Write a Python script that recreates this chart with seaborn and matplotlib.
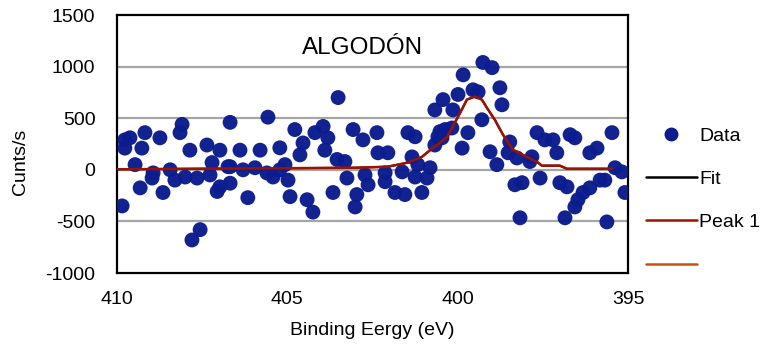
import matplotlib
matplotlib.use("Agg")
import matplotlib.pyplot as plt
from matplotlib.lines import Line2D
import seaborn as sns
import pandas as pd

# ---- data ----
data_ev = [410.12, 409.85, 409.77, 409.62, 409.77, 409.18, 409.27, 408.74, 408.09, 408.15,
           407.86, 407.36, 406.98, 406.68, 409.47, 408.94, 408.97, 408.44, 408.30, 408.00,
           407.65, 407.21, 407.27, 406.98, 407.06, 406.74, 409.32, 408.65, 407.56, 407.80,
           405.57, 403.51, 406.39, 405.80, 405.22, 404.78, 404.19, 403.95, 403.81, 403.07,
           404.54, 404.63, 403.90, 403.54, 403.31, 406.68, 406.30, 405.95, 405.60, 405.42,
           405.07, 405.22, 404.98, 406.16, 404.92, 404.42, 404.25, 403.66, 403.25, 403.01,
           402.96, 406.68, 402.78, 402.37, 401.46, 401.25, 402.34, 402.05, 401.34, 402.72,
           402.63, 402.13, 402.13, 401.63, 401.17, 400.81, 400.90, 401.25, 401.84, 401.55,
           401.05, 400.67, 400.43, 400.14, 399.99, 399.84, 399.55, 399.40, 399.26, 398.99,
           400.58, 400.52, 400.37, 400.17, 400.46, 399.70, 399.29, 399.87, 399.05, 400.67,
           398.76, 398.70, 398.47, 398.52, 398.85, 398.26, 397.88, 397.82, 397.67, 397.44,
           397.20, 397.09, 396.70, 396.56, 396.12, 395.91, 395.47, 398.11, 398.32, 397.58,
           397.00, 396.79, 396.47, 396.56, 396.32, 396.12, 395.82, 395.68, 395.38, 395.18,
           395.09, 398.17, 396.85, 395.62]
data_counts = [-350, -350, 290, 310, 210, 360, 210, 310, 440, 360,
               190, 240, 190, 460, 50, -30, -80, 0, -100, -70,
               -80, 70, -50, -165, -210, 30, -175, -220, -580, -680,
               510, 700, 190, 190, 213, 390, 360, 420, 310, 390,
               260, 145, 190, 100, 80, 30, 0, 20, -30, -70,
               50, 0, -100, -270, -260, -290, -410, -220, -80, -360,
               -240, -130, 290, 360, 360, 320, 165, 165, 125, -50,
               -145, -30, -115, -20, 50, 20, -80, -70, -220, -240,
               -220, 580, 680, 580, 730, 920, 775, 755, 1040, 990,
               320, 370, 390, 405, 310, 360, 485, 210, 175, 240,
               795, 630, 270, 165, 50, 115, 80, 126, 360, 290,
               290, 165, 340, 310, 165, 210, 360, -125, -145, -80,
               -125, -165, -290, -360, -220, -175, -100, -100, 20, -20,
               -220, -465, -465, -505]

peak_ev = [410.0, 403.0, 402.05, 401.46, 401.05, 400.72, 400.6, 400.31, 399.93, 399.73,
           399.49, 399.29, 399.14, 398.91, 398.67, 398.38, 397.97, 397.64, 397.53, 397.0,
           396.79, 395.47]
peak_counts = [5, 20, 30, 70, 125, 215, 240, 320, 550, 680,
               710, 680, 600, 485, 340, 195, 125, 70, 40, 40,
               10, 10]
fit_counts = peak_counts

legend_labels = ["Data", "Fit", "Peak 1", ""]
x_ticks = [410, 405, 400, 395]
y_ticks = [-1000, -500, 0, 500, 1000, 1500]

# ---- style ----
sns.set_style("white")
plt.rcParams["font.family"] = ["Liberation Sans", "DejaVu Sans"]
plt.rcParams["text.color"] = "black"
plt.rcParams["axes.labelcolor"] = "black"
plt.rcParams["xtick.color"] = "black"
plt.rcParams["ytick.color"] = "black"

NAVY = "#0A1C8E"
RED = "#A01200"
ORANGE = "#C4540E"

fig = plt.figure(figsize=(7.65, 3.49), dpi=100)
ax = fig.add_axes([117 / 765, 76 / 349, 511 / 765, 258 / 349])

df_data = pd.DataFrame({"ev": data_ev, "counts": data_counts})
df_peak = pd.DataFrame({"ev": peak_ev, "peak": peak_counts, "fit": fit_counts})

for y in y_ticks[1:-1]:
    ax.axhline(y, color="#A6A6A6", lw=1.6, zorder=0)

sns.lineplot(data=df_peak, x="ev", y="fit", ax=ax, color="black", lw=1.5,
             sort=False, zorder=2, legend=False)
sns.scatterplot(data=df_data, x="ev", y="counts", ax=ax, color=NAVY, s=115,
                edgecolor="none", alpha=0.97, zorder=3, legend=False)
sns.lineplot(data=df_peak, x="ev", y="peak", ax=ax, color=RED, lw=1.8,
             sort=False, zorder=4, legend=False)

ax.set_xlim(410, 395)
ax.set_ylim(-1000, 1500)
ax.set_xticks(x_ticks)
ax.set_yticks(y_ticks)
ax.set_xticklabels([str(t) for t in x_ticks])
ax.set_yticklabels([str(t) for t in y_ticks])
ax.tick_params(axis="x", length=0, pad=13, labelsize=14)
ax.tick_params(axis="y", length=0, pad=15.5, labelsize=14)
for s in ax.spines.values():
    s.set_color("black")
    s.set_linewidth(1.6)

ax.set_xlabel("Binding Eergy (eV)", fontsize=14, va="top")
ax.xaxis.set_label_coords(0.5, -0.19)
ax.set_ylabel("Cunts/s", fontsize=14)
ax.yaxis.set_label_coords(-0.172, 0.43)

ax.text(0.481, 0.872, "ALGODÓN", transform=ax.transAxes, ha="center",
        va="center", fontsize=17.5)

handles = [
    Line2D([], [], ls="none", marker="o", color=NAVY, markersize=9),
    Line2D([], [], color="black", lw=1.8),
    Line2D([], [], color=RED, lw=1.8),
    Line2D([], [], color=ORANGE, lw=1.8),
]
fig.legend(handles, legend_labels, loc="upper left",
           bbox_to_anchor=(646 / 765, 1 - 127 / 349), frameon=False,
           fontsize=14, handlelength=2.6, handletextpad=0.15,
           labelspacing=1.32, borderpad=0, borderaxespad=0)

fig.savefig("out.png", dpi=100)
